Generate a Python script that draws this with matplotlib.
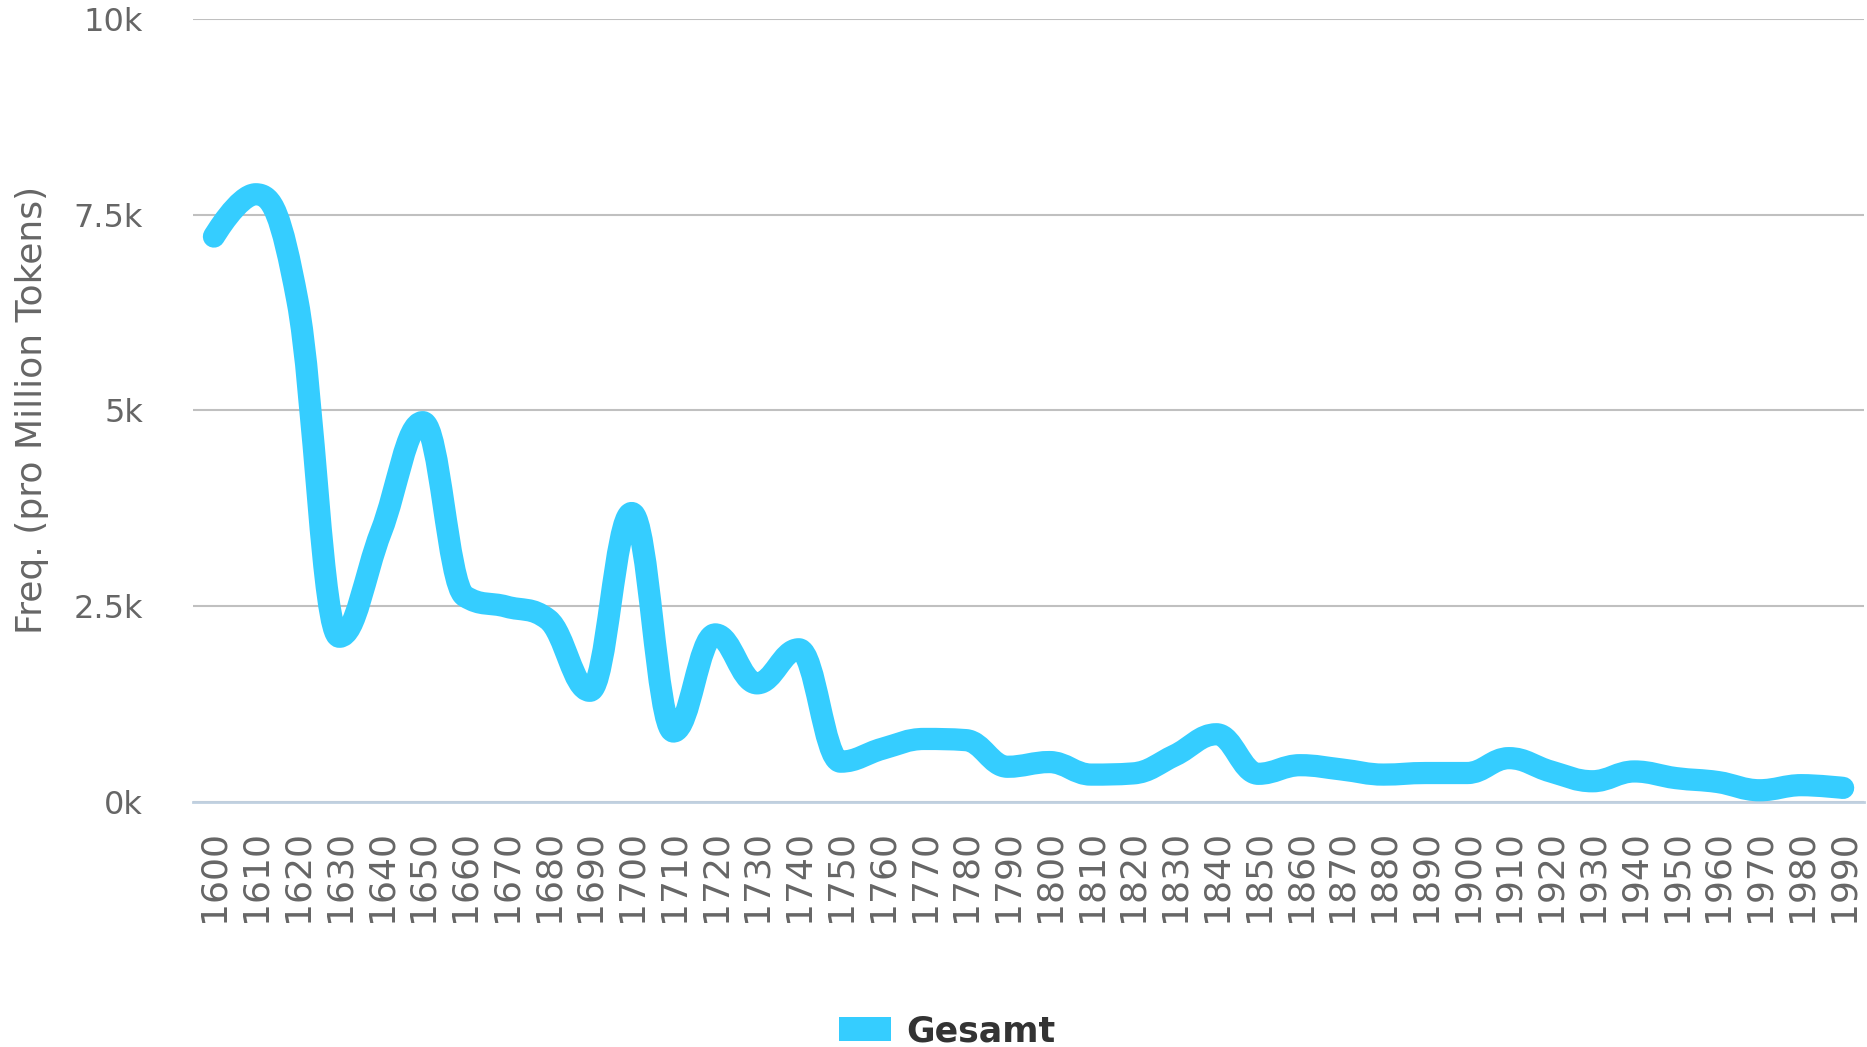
import numpy as np
import matplotlib
matplotlib.use("Agg")
import matplotlib.pyplot as plt
from matplotlib.path import Path
from matplotlib.patches import PathPatch, Patch

# data (Freq. per million tokens, per decade)
decades = [str(y) for y in range(1600, 2000, 10)]
gesamt = [7220, 7760, 6400, 2110, 3450, 4850, 2630, 2495, 2330, 1420,
          3690, 900, 2140, 1515, 1950, 515, 680, 805, 790, 450,
          510, 350, 365, 595, 865, 360, 470, 415, 350, 370,
          370, 560, 390, 265, 390, 305, 255, 150, 215, 180]
ytick_vals = [0, 2500, 5000, 7500, 10000]
ytick_labels = ["0k", "2.5k", "5k", "7.5k", "10k"]

line_col = "#35CDFF"
text_col = "#666666"


def spline_path(xs, ys, smoothing=1.5):
    # highcharts-like spline: cubic bezier with clamped control points
    denom = smoothing + 1
    n = len(xs)
    left = [None] * n
    right = [None] * n
    for i in range(n):
        x, y = xs[i], ys[i]
        if 0 < i < n - 1:
            lx = (smoothing * x + xs[i - 1]) / denom
            ly = (smoothing * y + ys[i - 1]) / denom
            rx = (smoothing * x + xs[i + 1]) / denom
            ry = (smoothing * y + ys[i + 1]) / denom
            corr = (ry - ly) * (rx - x) / (rx - lx) + y - ry
            ly += corr
            ry += corr
            if ly > ys[i - 1] and ly > y:
                ly = max(ys[i - 1], y); ry = 2 * y - ly
            elif ly < ys[i - 1] and ly < y:
                ly = min(ys[i - 1], y); ry = 2 * y - ly
            if ry > ys[i + 1] and ry > y:
                ry = max(ys[i + 1], y); ly = 2 * y - ry
            elif ry < ys[i + 1] and ry < y:
                ry = min(ys[i + 1], y); ly = 2 * y - ry
            left[i] = (lx, ly)
            right[i] = (rx, ry)
        else:
            left[i] = right[i] = (x, y)
    verts = [(xs[0], ys[0])]
    codes = [Path.MOVETO]
    for i in range(1, n):
        verts += [right[i - 1], left[i], (xs[i], ys[i])]
        codes += [Path.CURVE4] * 3
    return Path(verts, codes)


fig = plt.figure(figsize=(18.67, 10.47), dpi=100)
ax = fig.add_axes([0.1034, 0.234, 0.895, 0.748])

xs = np.arange(len(decades), dtype=float)
ys = np.array(gesamt, dtype=float)
patch = PathPatch(spline_path(xs, ys), facecolor="none", edgecolor=line_col,
                  lw=16, capstyle="round", joinstyle="round", zorder=3,
                  clip_on=False)
ax.add_patch(patch)

ax.set_xlim(-0.5, len(decades) - 0.5)
ax.set_ylim(0, 10000)
ax.set_xticks(xs)
ax.set_xticklabels(decades, rotation=90, fontsize=26, color=text_col)
ax.set_yticks(ytick_vals)
ax.set_yticklabels(ytick_labels, fontsize=23, color=text_col)
ax.tick_params(axis="x", length=0, pad=20)
ax.tick_params(axis="y", length=0, pad=36)

ax.grid(axis="y", color="#C0C0C0", lw=1.5)
ax.set_axisbelow(True)
for s in ["left", "right", "top"]:
    ax.spines[s].set_visible(False)
ax.spines["bottom"].set_color("#C0D0E0")
ax.spines["bottom"].set_linewidth(2)

fig.text(32 / 1867, 1 - 410 / 1047, "Freq. (pro Million Tokens)", rotation=90,
         ha="center", va="center", fontsize=26, color=text_col)

fig.legend(handles=[Patch(facecolor=line_col, edgecolor="none", label="Gesamt")],
           loc="center", bbox_to_anchor=(947 / 1867, 1 - 1031 / 1047),
           frameon=False, handlelength=1.5, handleheight=0.7, handletextpad=0.45,
           prop={"weight": "bold", "size": 25}, labelcolor="#333333")

fig.savefig("out.png", dpi=100)
